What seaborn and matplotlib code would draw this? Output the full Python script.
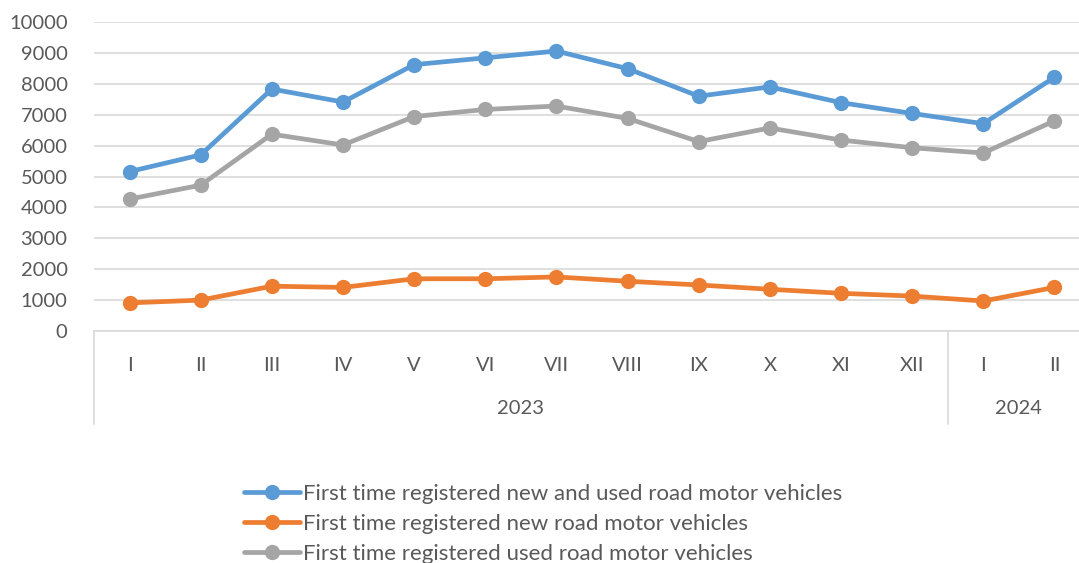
import matplotlib
matplotlib.use("Agg")
import matplotlib.pyplot as plt
import matplotlib.transforms as mtransforms
import seaborn as sns
import pandas as pd

# Data
months = ["I", "II", "III", "IV", "V", "VI", "VII", "VIII", "IX", "X", "XI", "XII", "I", "II"]
years = ["2023", "2024"]
year_counts = [12, 2]

new_and_used = [5160, 5700, 7830, 7410, 8620, 8840, 9060, 8490, 7600, 7900, 7390, 7040, 6710, 8210]
new_only = [910, 1000, 1450, 1410, 1690, 1690, 1750, 1610, 1490, 1350, 1220, 1130, 970, 1410]
used_only = [4270, 4720, 6370, 6020, 6940, 7170, 7280, 6880, 6130, 6570, 6180, 5930, 5760, 6800]

series_names = [
    "First time registered new and used road motor vehicles",
    "First time registered new road motor vehicles",
    "First time registered used road motor vehicles",
]
colors = ["#5b9bd5", "#ed7d31", "#a5a5a5"]

rows = []
for name, vals in zip(series_names, [new_and_used, new_only, used_only]):
    for i, v in enumerate(vals):
        rows.append({"pos": i, "value": v, "series": name})
df = pd.DataFrame(rows)

sns.set_style("white")
plt.rcParams["font.family"] = ["Lato", "DejaVu Sans"]
text_color = "#595959"

W, H = 1079, 563
fig = plt.figure(figsize=(W / 100, H / 100), dpi=100)
# plot area: left 94px, bottom 331px, top 22px; right edge runs past the crop
ax = fig.add_axes([94 / W, 1 - 331 / H, 996 / W, (331 - 22) / H])

sns.lineplot(data=df, x="pos", y="value", hue="series", palette=colors,
             marker="o", markersize=11, markeredgewidth=0, linewidth=3.4,
             ax=ax, legend=False)

ax.set_xlim(-0.5, len(months) - 0.5)
ax.set_ylim(0, 10000)
ax.set_yticks(range(0, 10001, 1000))
ax.set_yticklabels([str(v) for v in range(0, 10001, 1000)], fontsize=14.5, color=text_color)
ax.set_xticks(range(len(months)))
ax.set_xticklabels(months, fontsize=14.5, color=text_color)
ax.tick_params(axis="y", length=0, pad=19)
ax.tick_params(axis="x", length=0, pad=19)
ax.set_xlabel("")
ax.set_ylabel("")
ax.grid(axis="y", color="#d9d9d9", linewidth=1.2)
ax.set_axisbelow(True)
for s in ["left", "right", "top"]:
    ax.spines[s].set_visible(False)
ax.spines["bottom"].set_color("#d9d9d9")
ax.spines["bottom"].set_linewidth(1.2)

# year labels and separators under the month labels
trans = mtransforms.blended_transform_factory(ax.transData, ax.transAxes)
sep_depth = -(424 - 331) / (331 - 22)
year_y = -(409 - 331) / (331 - 22)
start = -0.5
ax.plot([start, start], [0, sep_depth], transform=trans, color="#d9d9d9", lw=1.2, clip_on=False)
for yr, n in zip(years, year_counts):
    end = start + n
    ax.text((start + end) / 2, year_y, yr, transform=trans, ha="center", va="center",
            fontsize=14.5, color=text_color)
    ax.plot([end, end], [0, sep_depth], transform=trans, color="#d9d9d9", lw=1.2, clip_on=False)
    start = end

handles = ax.get_lines()[:3]
fig.legend(handles, series_names, loc="center left", bbox_to_anchor=(244 / W, 1 - 524 / H),
           frameon=False, fontsize=16, labelcolor=text_color, handlelength=2.5,
           handletextpad=0.15, labelspacing=0.45, borderpad=0, borderaxespad=0)

fig.savefig("out.png", dpi=100)
